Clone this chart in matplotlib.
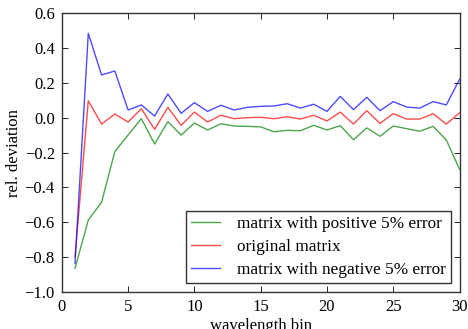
import matplotlib
matplotlib.use("Agg")
import matplotlib.pyplot as plt
import numpy as np

plt.rcParams['font.family'] = ['Liberation Serif', 'DejaVu Serif']
plt.rcParams['mathtext.fontset'] = 'dejavuserif'

bins = list(range(1, 31))
positive = [-0.864, -0.587, -0.485, -0.194, -0.099, -0.005, -0.150, -0.022, -0.099, -0.030,
            -0.070, -0.034, -0.047, -0.049, -0.052, -0.080, -0.072, -0.074, -0.043, -0.070,
            -0.045, -0.126, -0.058, -0.106, -0.047, -0.062, -0.077, -0.049, -0.127, -0.296]
original = [-0.797, 0.098, -0.036, 0.022, -0.024, 0.052, -0.066, 0.060, -0.043, 0.033,
            -0.024, 0.015, -0.005, 0.001, 0.003, -0.005, 0.006, -0.007, 0.015, -0.018,
            0.033, -0.036, 0.041, -0.032, 0.024, -0.007, -0.007, 0.024, -0.036, 0.029]
negative = [-0.835, 0.485, 0.246, 0.269, 0.045, 0.074, 0.010, 0.137, 0.026, 0.087,
            0.037, 0.072, 0.045, 0.060, 0.066, 0.068, 0.081, 0.056, 0.078, 0.037,
            0.123, 0.047, 0.118, 0.041, 0.093, 0.062, 0.056, 0.093, 0.074, 0.221]
labels = ["matrix with positive 5% error", "original matrix", "matrix with negative 5% error"]

fig = plt.figure(figsize=(4.68, 3.29), dpi=100)
ax = fig.add_axes([0.132, 0.1125, 0.850, 0.847])
ax.plot(bins, positive, color='g', lw=1.0, alpha=0.7, label=labels[0])
ax.plot(bins, original, color='r', lw=1.0, alpha=0.7, label=labels[1])
ax.plot(bins, negative, color='b', lw=1.0, alpha=0.7, label=labels[2])
ax.set_xlim(0, 30)
ax.set_ylim(-1.0, 0.6)
ax.set_xticks([0, 5, 10, 15, 20, 25, 30])
ax.set_yticks(np.arange(-1.0, 0.61, 0.2))
ax.tick_params(direction='in', top=True, right=True, labelsize=12, length=4, width=0.6, pad=5)
for s in ax.spines.values():
    s.set_linewidth(1.0)
    s.set_color('#333333')
ax.set_xlabel('wavelength bin', fontsize=12, labelpad=2)
ax.set_ylabel('rel. deviation', fontsize=12, labelpad=2)
leg = ax.legend(loc='lower right', fontsize=12.4, fancybox=False, edgecolor='#333333',
                framealpha=1, handlelength=1.65, handletextpad=1.0, borderpad=0.3,
                labelspacing=0.4)
leg.get_frame().set_linewidth(1.0)
fig.savefig('out.png', dpi=100)
